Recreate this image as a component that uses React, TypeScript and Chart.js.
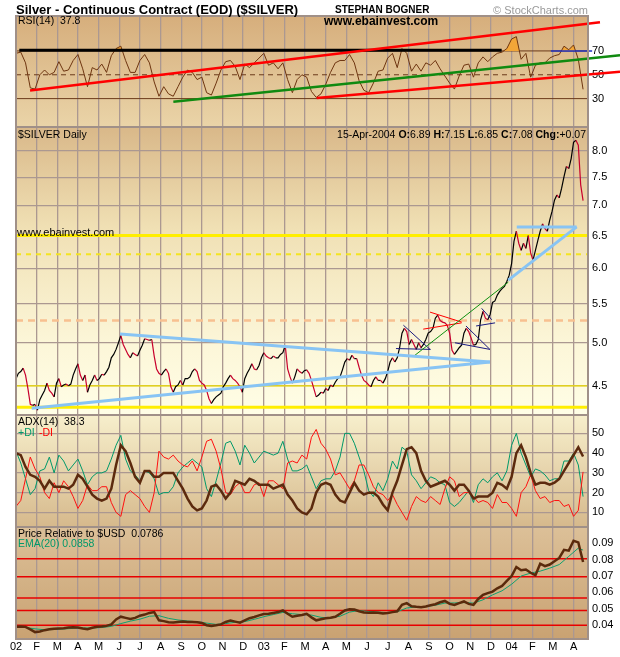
import { useEffect, useRef } from 'react';
import { Chart, registerables } from 'chart.js';
Chart.register(...registerables);

const FONT = "'Liberation Sans', Arial, sans-serif";
Chart.defaults.font.family = FONT;
Chart.defaults.color = '#000';

// ---------- x axis ----------
const monthLabels = ['02', 'F', 'M', 'A', 'M', 'J', 'J', 'A', 'S', 'O', 'N', 'D', '03', 'F', 'M', 'A', 'M', 'J', 'J', 'A', 'S', 'O', 'N', 'D', '04', 'F', 'M', 'A'];
const X_MAX = 27.7; // months shown
const WEEK = 12 / 52; // months per weekly sample
const HALF_WEEK = 6 / 52; // months per half-week sample

// ---------- data (Jan 2002 .. 15 Apr 2004) ----------
// closes, sampled twice a week
const priceClose = [
  4.58, 4.64, 4.66, 4.70, 4.62, 4.47, 4.30, 4.29, 4.30, 4.24,
  4.35, 4.40, 4.45, 4.53, 4.45, 4.42, 4.38, 4.53, 4.58, 4.49,
  4.51, 4.52, 4.50, 4.52, 4.62, 4.69, 4.75, 4.62, 4.56, 4.62,
  4.43, 4.51, 4.56, 4.62, 4.56, 4.58, 4.63, 4.62, 4.66, 4.71,
  4.82, 4.86, 4.92, 5.00, 5.09, 4.98, 4.92, 4.86, 4.82, 4.88,
  4.86, 4.84, 4.91, 4.97, 5.05, 5.04, 5.03, 5.04, 4.84, 4.69,
  4.64, 4.62, 4.66, 4.69, 4.64, 4.49, 4.43, 4.49, 4.51, 4.56,
  4.51, 4.58, 4.58, 4.60, 4.66, 4.69, 4.66, 4.56, 4.53, 4.51,
  4.45, 4.36, 4.31, 4.35, 4.38, 4.40, 4.42, 4.49, 4.53, 4.58,
  4.62, 4.58, 4.56, 4.53, 4.49, 4.43, 4.58, 4.64, 4.69, 4.75,
  4.69, 4.68, 4.73, 4.82, 4.88, 4.84, 4.82, 4.81, 4.84, 4.82,
  4.82, 4.86, 4.88, 4.97, 4.69, 4.60, 4.53, 4.60, 4.69, 4.66,
  4.64, 4.67, 4.68, 4.64, 4.56, 4.47, 4.38, 4.40, 4.43, 4.42,
  4.47, 4.45, 4.51, 4.49, 4.54, 4.58, 4.60, 4.68, 4.77, 4.81,
  4.79, 4.85, 4.81, 4.81, 4.71, 4.62, 4.56, 4.54, 4.51, 4.49,
  4.56, 4.60, 4.56, 4.56, 4.53, 4.58, 4.66, 4.77, 4.82, 4.77,
  4.82, 4.94, 5.12, 5.18, 5.14, 4.98, 5.04, 4.98, 4.92, 5.00,
  4.94, 4.98, 5.04, 5.12, 5.14, 5.18, 5.31, 5.35, 5.28, 5.26,
  5.25, 5.22, 5.12, 4.91, 4.86, 4.90, 4.94, 4.97, 5.12, 5.18,
  5.14, 5.06, 4.97, 4.98, 5.04, 5.29, 5.40, 5.31, 5.29, 5.36,
  5.52, 5.54, 5.62, 5.67, 5.71, 5.74, 5.81, 5.90, 6.07, 6.41,
  6.57, 6.38, 6.27, 6.38, 6.30, 6.50, 6.23, 6.12, 6.27, 6.42,
  6.57, 6.69, 6.61, 6.57, 6.75, 6.90, 7.09, 7.18, 7.13, 7.30,
  7.51, 7.70, 7.66, 7.85, 8.17, 8.21, 8.11, 7.36, 7.08,
];
// weekly indicator values
const rsiValues = [
  68, 69, 60, 39, 38, 50, 54, 50, 52, 61,
  53, 54, 62, 67, 55, 40, 56, 54, 59, 52,
  66, 72, 74, 62, 52, 52, 62, 67, 60, 44,
  32, 40, 34, 32, 40, 48, 54, 52, 46, 48,
  35, 33, 43, 54, 61, 62, 57, 46, 59, 56,
  60, 64, 68, 58, 60, 55, 60, 46, 35, 46,
  50, 48, 36, 31, 34, 42, 52, 60, 62, 62,
  67, 60, 45, 37, 35, 43, 53, 54, 64, 68,
  56, 72, 68, 53, 59, 53, 60, 58, 62, 55,
  49, 43, 38, 49, 58, 59, 48, 60, 65, 61,
  65, 68, 69, 72, 80, 82, 63, 68, 48, 58,
  60, 60, 64, 66, 67, 74, 71, 75, 63, 37.8,
];
const adxValues = [
  40, 39, 33, 29, 28, 26, 22, 26, 23, 23,
  23, 22, 24, 29, 27, 23, 19, 17, 16, 17,
  22, 34, 44, 41, 35, 28, 25, 31, 31, 28,
  28, 30, 30, 30, 26, 22, 17, 13, 11, 12,
  16, 23, 24, 21, 17, 20, 26, 25, 24, 27,
  26, 24, 24, 24, 22, 23, 24, 19, 16, 12,
  10, 9, 12, 20, 24, 25, 24, 19, 16, 15,
  20, 25, 21, 19, 20, 20, 18, 14, 11, 20,
  26, 34, 42, 43, 40, 31, 26, 23, 24, 25,
  26, 24, 21, 24, 24, 21, 17, 18, 18, 18,
  20, 25, 24, 22, 28, 40, 44, 38, 30, 24,
  25, 25, 24, 25, 27, 31, 35, 39, 43, 38.3,
];
const plusDI = [
  41, 35, 27, 19, 22, 31, 32, 38, 30, 39,
  36, 31, 34, 37, 31, 24, 28, 30, 30, 31,
  37, 44, 49, 37, 31, 29, 26, 31, 30, 27,
  19, 20, 20, 23, 30, 33, 35, 37, 35, 33,
  22, 18, 26, 35, 45, 46, 41, 34, 44, 40,
  35, 38, 41, 40, 39, 40, 46, 37, 31, 31,
  32, 34, 28, 22, 26, 27, 27, 31, 38, 50,
  50, 45, 38, 31, 21, 18, 25, 21, 27, 36,
  32, 43, 41, 29, 26, 22, 25, 28, 27, 25,
  24, 15, 13, 15, 18, 21, 15, 24, 27, 25,
  28, 30, 26, 31, 44, 50, 40, 34, 28, 32,
  31, 29, 26, 27, 27, 36, 36, 40, 34, 18,
];
const minusDI = [
  13, 16, 27, 38, 32, 28, 20, 17, 25, 20,
  26, 23, 18, 12, 16, 24, 21, 21, 23, 23,
  15, 10, 8, 19, 21, 19, 17, 13, 10, 20,
  41, 38, 37, 39, 36, 34, 33, 36, 31, 38,
  46, 47, 41, 32, 20, 19, 23, 25, 20, 20,
  24, 25, 18, 26, 26, 24, 22, 35, 36, 35,
  39, 37, 48, 52, 45, 42, 37, 29, 30, 26,
  22, 26, 34, 34, 29, 23, 20, 19, 16, 19,
  14, 10, 6, 13, 18, 16, 15, 18, 16, 14,
  22, 28, 26, 18, 20, 20, 18, 15, 16, 15,
  12, 19, 15, 15, 12, 8, 20, 23, 29, 21,
  17, 18, 15, 16, 16, 13, 14, 8, 11, 30.5,
];
const priceRelative = [
  0.0391, 0.0392, 0.0390, 0.0375, 0.0358, 0.0362, 0.0370, 0.0375, 0.0378, 0.0380,
  0.0382, 0.0386, 0.0388, 0.0386, 0.0380, 0.0376, 0.0385, 0.0390, 0.0392, 0.0396,
  0.0405, 0.0435, 0.0452, 0.0445, 0.0438, 0.0445, 0.0458, 0.0465, 0.0475, 0.0480,
  0.0430, 0.0425, 0.0418, 0.0416, 0.0420, 0.0422, 0.0420, 0.0420, 0.0418, 0.0414,
  0.0400, 0.0396, 0.0400, 0.0405, 0.0420, 0.0428, 0.0422, 0.0416, 0.0430, 0.0443,
  0.0450, 0.0460, 0.0468, 0.0470, 0.0475, 0.0480, 0.0490, 0.0470, 0.0452, 0.0458,
  0.0462, 0.0470, 0.0448, 0.0430, 0.0436, 0.0442, 0.0446, 0.0452, 0.0470, 0.0490,
  0.0498, 0.0496, 0.0485, 0.0478, 0.0476, 0.0478, 0.0476, 0.0472, 0.0474, 0.0480,
  0.0485, 0.0525, 0.0535, 0.0516, 0.0512, 0.0510, 0.0514, 0.0522, 0.0528, 0.0540,
  0.0548, 0.0530, 0.0524, 0.0535, 0.0545, 0.0530, 0.0524, 0.0560, 0.0585, 0.0596,
  0.0605, 0.0625, 0.0640, 0.0670, 0.0700, 0.0755, 0.0735, 0.0740, 0.0720, 0.0705,
  0.0775, 0.0760, 0.0770, 0.0790, 0.0810, 0.0860, 0.0855, 0.0915, 0.0905, 0.0786,
];
// EMA(20) sampled every second week, plus the final value
const ema20 = [
  0.0388, 0.0386, 0.0378, 0.0372, 0.0374, 0.0377, 0.0381, 0.0383, 0.0383, 0.0386,
  0.0393, 0.0410, 0.0425, 0.0437, 0.0455, 0.0458, 0.0442, 0.0432, 0.0426, 0.0421,
  0.0413, 0.0405, 0.0410, 0.0418, 0.0422, 0.0436, 0.0452, 0.0465, 0.0478, 0.0470,
  0.0465, 0.0462, 0.0448, 0.0444, 0.0455, 0.0480, 0.0490, 0.0484, 0.0480, 0.0477,
  0.0482, 0.0505, 0.0512, 0.0514, 0.0522, 0.0535, 0.0536, 0.0538, 0.0535, 0.0555,
  0.0585, 0.0610, 0.0650, 0.0700, 0.0718, 0.0730, 0.0748, 0.0770, 0.0820, 0.0870,
];
const ema20Last = 0.0858;

// ---------- tick values ----------
const rsiTicks = [30, 50, 70];
const priceTicks = [4.5, 5.0, 5.5, 6.0, 6.5, 7.0, 7.5, 8.0];
const adxTicks = [10, 20, 30, 40, 50];
const prTicks = [0.04, 0.05, 0.06, 0.07, 0.08, 0.09];

// ---------- reference levels ----------
const rsiLevels = [70, 50, 30];
const priceLevels = [6.5, 6.21, 5.28, 4.5, 4.27];
const prLevels = [0.0806, 0.0695, 0.0566, 0.049, 0.040];

// ---------- drawn trend lines [month, value] ----------
const rsiBlackLine = [[0.16, 70.6], [23.52, 70.6]];
const rsiRedUpper = [[0.68, 36.9], [28.28, 94.0]];
const rsiRedLower = [[14.56, 30.6], [29.25, 52.6]];
const rsiGreenLine = [[7.62, 27.3], [29.25, 66.4]];
const rsiBlueLine = [[25.9, 70.0], [27.9, 70.0]];

const triUpper = [[5.04, 5.11], [22.95, 4.77]];
const triLower = [[0.76, 4.26], [22.95, 4.77]];
const blueFlat = [[24.25, 6.64], [27.15, 6.64]];
const blueRise = [[23.84, 5.83], [27.15, 6.64]];
const greenTrend = [[19.32, 4.85], [23.84, 5.8]];
const navy1Upper = [[18.76, 5.22], [20.05, 4.92]];
const navy1Lower = [[18.4, 4.93], [20.08, 4.92]];
const navy2Upper = [[21.79, 5.21], [22.95, 4.92]];
const navy2Lower = [[21.26, 5.0], [22.95, 4.92]];
const navy3Upper = [[22.55, 5.44], [23.04, 5.29]];
const navy3Lower = [[22.28, 5.21], [23.2, 5.25]];
const redTriUpper = [[20.05, 5.39], [21.58, 5.26]];
const redTriLower = [[19.72, 5.17], [21.58, 5.25]];

// ---------- styles ----------
const GRID = '#ab9891';
const BORDER = '#a09088';
const UP = '#000000';
const DOWN = '#c8002d';

const series = (vals: number[], step: number) => vals.map((v, i) => ({ x: i * step, y: v }));
const seg = (pts: number[][]) => pts.map(([x, y]) => ({ x, y }));

function lineDs(data: any[], color: string, width: number, extra: any = {}) {
  return { data, borderColor: color, borderWidth: width, pointRadius: 0, fill: false, tension: 0, ...extra };
}
const hLine = (v: number, color: string, width: number, extra: any = {}) =>
  lineDs(seg([[0, v], [X_MAX, v]]), color, width, extra);

const NOCLIP_RIGHT = { clip: { left: 0, top: 0, bottom: 0, right: false } };

type TextItem = { text: string; x: number; y: number; font: string; color: string; align?: CanvasTextAlign };

function panelPlugin(stops: [number, string][], texts: TextItem[], extra?: (ctx: CanvasRenderingContext2D) => void) {
  return {
    id: 'panel',
    beforeDraw(chart: any) {
      const { ctx, chartArea: a } = chart;
      const g = ctx.createLinearGradient(0, a.top, 0, a.bottom);
      stops.forEach(([o, c]) => g.addColorStop(o, c));
      ctx.save();
      ctx.fillStyle = g;
      ctx.fillRect(a.left, a.top, a.right - a.left, a.bottom - a.top);
      ctx.restore();
    },
    afterDraw(chart: any) {
      const { ctx, chartArea: a } = chart;
      ctx.save();
      ctx.strokeStyle = BORDER;
      ctx.lineWidth = 2;
      ctx.strokeRect(a.left, a.top, a.right - a.left, a.bottom - a.top);
      texts.forEach((t) => {
        ctx.font = t.font;
        ctx.fillStyle = t.color;
        ctx.textAlign = t.align || 'left';
        ctx.textBaseline = 'alphabetic';
        ctx.fillText(t.text, t.x, t.y);
      });
      if (extra) extra(ctx);
      ctx.restore();
    },
  };
}

function xScale(show: boolean) {
  return {
    type: 'linear',
    min: 0,
    max: X_MAX,
    afterBuildTicks: (s: any) => {
      s.ticks = monthLabels.map((_, i) => ({ value: i }));
    },
    grid: { color: GRID, lineWidth: 1.3, drawTicks: false },
    border: { display: false },
    ticks: {
      display: show,
      autoSkip: false,
      maxRotation: 0,
      padding: 1,
      color: '#000',
      font: { size: 11 },
      callback: (v: number) => monthLabels[Math.round(v)] ?? '',
    },
    afterFit: (s: any) => {
      s.height = show ? 18 : 0;
      s.paddingLeft = 0;
      s.paddingRight = 0;
    },
  };
}

function yScale(type: string, min: number, max: number, ticks: number[], fmt: (v: number) => string, grid: boolean) {
  return {
    type,
    position: 'right',
    min,
    max,
    afterBuildTicks: (s: any) => {
      s.ticks = ticks.map((v) => ({ value: v }));
    },
    grid: { display: grid, color: GRID, lineWidth: 1.3, drawTicks: false },
    border: { display: false },
    ticks: { padding: 4, color: '#000', font: { size: 11 }, callback: (v: number) => fmt(v) },
    afterFit: (s: any) => {
      s.width = 32;
      s.paddingTop = 0;
      s.paddingBottom = 0;
    },
  };
}

function baseOptions(padTop: number, showX: boolean, y: any) {
  return {
    animation: false,
    responsive: true,
    maintainAspectRatio: false,
    events: [],
    layout: { padding: { left: 16, right: 0, top: padTop, bottom: 0 } },
    plugins: { legend: { display: false }, tooltip: { enabled: false } },
    scales: { x: xScale(showX), y },
  };
}

function rsiConfig(): any {
  const texts: TextItem[] = [
    { text: 'Silver - Continuous Contract (EOD) ($SILVER)', x: 16, y: 14, font: `bold 13px ${FONT}`, color: '#000' },
    { text: 'STEPHAN BOGNER', x: 335, y: 13, font: `bold 10px ${FONT}`, color: '#000' },
    { text: 'www.ebainvest.com', x: 324, y: 25, font: `bold 12px ${FONT}`, color: '#000' },
    { text: '\u00A9 StockCharts.com', x: 588, y: 14, font: `11px ${FONT}`, color: '#9a9a9a', align: 'right' },
    { text: 'RSI(14)  37.8', x: 18, y: 24, font: `10.5px ${FONT}`, color: '#000' },
  ];
  return {
    type: 'line',
    data: {
      datasets: [
        lineDs(seg(rsiRedUpper), '#ff0000', 2.5, NOCLIP_RIGHT),
        lineDs(seg(rsiRedLower), '#ff0000', 2.5, NOCLIP_RIGHT),
        lineDs(seg(rsiGreenLine), '#108a10', 2.5, NOCLIP_RIGHT),
        lineDs(seg(rsiBlackLine), '#000000', 3),
        lineDs(seg(rsiBlueLine), '#2030c0', 1.5, NOCLIP_RIGHT),
        lineDs(series(rsiValues, WEEK), '#6e3510', 1, {
          fill: { target: { value: 70 }, above: '#f2a638', below: 'rgba(0,0,0,0)' },
        }),
        hLine(rsiLevels[0], '#6b3a1a', 1),
        hLine(rsiLevels[1], '#6b3a1a', 1, { borderDash: [5, 4] }),
        hLine(rsiLevels[2], '#6b3a1a', 1),
      ],
    },
    options: baseOptions(16, false, yScale('linear', 6.2, 99.3, rsiTicks, (v) => String(v), false)),
    plugins: [panelPlugin([[0, '#d6ae7c'], [1, '#ead4a8']], texts)],
  };
}

function priceConfig(): any {
  const texts: TextItem[] = [
    { text: '$SILVER Daily', x: 18, y: 10.5, font: `10.5px ${FONT}`, color: '#000' },
    { text: 'www.ebainvest.com', x: 17, y: 108.5, font: `11px ${FONT}`, color: '#000' },
  ];
  const ohlc: [string, boolean][] = [
    ['15-Apr-2004 ', false], ['O:', true], ['6.89 ', false], ['H:', true], ['7.15 ', false],
    ['L:', true], ['6.85 ', false], ['C:', true], ['7.08 ', false], ['Chg:', true], ['+0.07', false],
  ];
  const drawOhlc = (ctx: CanvasRenderingContext2D) => {
    const f = (b: boolean) => `${b ? 'bold ' : ''}10.5px ${FONT}`;
    let total = 0;
    ohlc.forEach(([t, b]) => { ctx.font = f(b); total += ctx.measureText(t).width; });
    let x = 586 - total;
    ctx.fillStyle = '#000';
    ctx.textAlign = 'left';
    ohlc.forEach(([t, b]) => { ctx.font = f(b); ctx.fillText(t, x, 10.5); x += ctx.measureText(t).width; });
  };
  return {
    type: 'line',
    data: {
      datasets: [
        lineDs(seg(triUpper), '#88c4f4', 3),
        lineDs(seg(triLower), '#88c4f4', 3),
        lineDs(seg(blueFlat), '#88c4f4', 3),
        lineDs(seg(blueRise), '#88c4f4', 3),
        lineDs(seg(greenTrend), '#109010', 1),
        lineDs(seg(navy1Upper), '#1a1a80', 1),
        lineDs(seg(navy1Lower), '#1a1a80', 1),
        lineDs(seg(navy2Upper), '#1a1a80', 1),
        lineDs(seg(navy2Lower), '#1a1a80', 1),
        lineDs(seg(navy3Upper), '#1a1a80', 1),
        lineDs(seg(navy3Lower), '#1a1a80', 1),
        lineDs(seg(redTriUpper), '#ff0000', 1),
        lineDs(seg(redTriLower), '#ff0000', 1),
        lineDs(series(priceClose, HALF_WEEK), UP, 1.2, {
          segment: { borderColor: (c: any) => (c.p1.parsed.y < c.p0.parsed.y ? DOWN : UP) },
        }),
        hLine(priceLevels[0], '#ffee00', 3),
        hLine(priceLevels[1], '#f4e420', 2, { borderDash: [5, 5] }),
        hLine(priceLevels[2], '#f8c090', 2.5, { borderDash: [7, 5] }),
        hLine(priceLevels[3], '#f0e000', 1.2),
        hLine(priceLevels[4], '#ffee00', 3),
      ],
    },
    options: baseOptions(0, false, yScale('logarithmic', 4.19, 8.48, priceTicks, (v) => v.toFixed(1), true)),
    plugins: [panelPlugin([[0, '#d9b889'], [0.35, '#f0e0b4'], [0.75, '#fcf6d8'], [1, '#fffee6']], texts, drawOhlc)],
  };
}

function adxConfig(): any {
  const texts: TextItem[] = [
    { text: 'ADX(14)  38.3', x: 18, y: 10, font: `10.5px ${FONT}`, color: '#000' },
    { text: '+DI', x: 18, y: 21, font: `10.5px ${FONT}`, color: '#00996a' },
    { text: '-DI', x: 39, y: 21, font: `10.5px ${FONT}`, color: '#ff0000' },
  ];
  return {
    type: 'line',
    data: {
      datasets: [
        lineDs(series(adxValues, WEEK), '#5c2a0e', 2.5),
        lineDs(series(minusDI, WEEK), '#ff1010', 1),
        lineDs(series(plusDI, WEEK), '#00996a', 1),
      ],
    },
    options: baseOptions(0, false, yScale('linear', 2.6, 59.3, adxTicks, (v) => String(v), true)),
    plugins: [panelPlugin([[0, '#f7efcc'], [1, '#d6b98c']], texts)],
  };
}

function prConfig(): any {
  const texts: TextItem[] = [
    { text: 'Price Relative to $USD  0.0786', x: 18, y: 9.5, font: `10.5px ${FONT}`, color: '#000' },
    { text: 'EMA(20) 0.0858', x: 18, y: 20, font: `10.5px ${FONT}`, color: '#00996a' },
  ];
  const emaData = ema20.map((v, j) => ({ x: j * 2 * WEEK, y: v })).concat([{ x: 119 * WEEK, y: ema20Last }]);
  return {
    type: 'line',
    data: {
      datasets: [
        lineDs(series(priceRelative, WEEK), '#5a2a0c', 2.5),
        lineDs(emaData, '#10a070', 1),
        ...prLevels.map((v) => hLine(v, '#e80000', 1.5)),
      ],
    },
    options: baseOptions(0, true, yScale('linear', 0.0316, 0.0999, prTicks, (v) => v.toFixed(2), false)),
    plugins: [panelPlugin([[0, '#dcc098'], [1, '#c9a272']], texts)],
  };
}

export default function App() {
  const r1 = useRef<HTMLCanvasElement>(null);
  const r2 = useRef<HTMLCanvasElement>(null);
  const r3 = useRef<HTMLCanvasElement>(null);
  const r4 = useRef<HTMLCanvasElement>(null);

  useEffect(() => {
    document.body.style.margin = '0';
    const charts = [
      new Chart(r1.current!, rsiConfig()),
      new Chart(r2.current!, priceConfig()),
      new Chart(r3.current!, adxConfig()),
      new Chart(r4.current!, prConfig()),
    ];
    return () => charts.forEach((c) => c.destroy());
  }, []);

  const box = (top: number, height: number) => ({ position: 'absolute' as const, left: 0, top, width: 620, height });
  return (
    <div style={{ position: 'relative', width: 620, height: 657, background: '#fff', overflow: 'hidden' }}>
      <div style={box(0, 127)}><canvas ref={r1} /></div>
      <div style={box(127, 288)}><canvas ref={r2} /></div>
      <div style={box(415, 112)}><canvas ref={r3} /></div>
      <div style={box(527, 130)}><canvas ref={r4} /></div>
    </div>
  );
}
